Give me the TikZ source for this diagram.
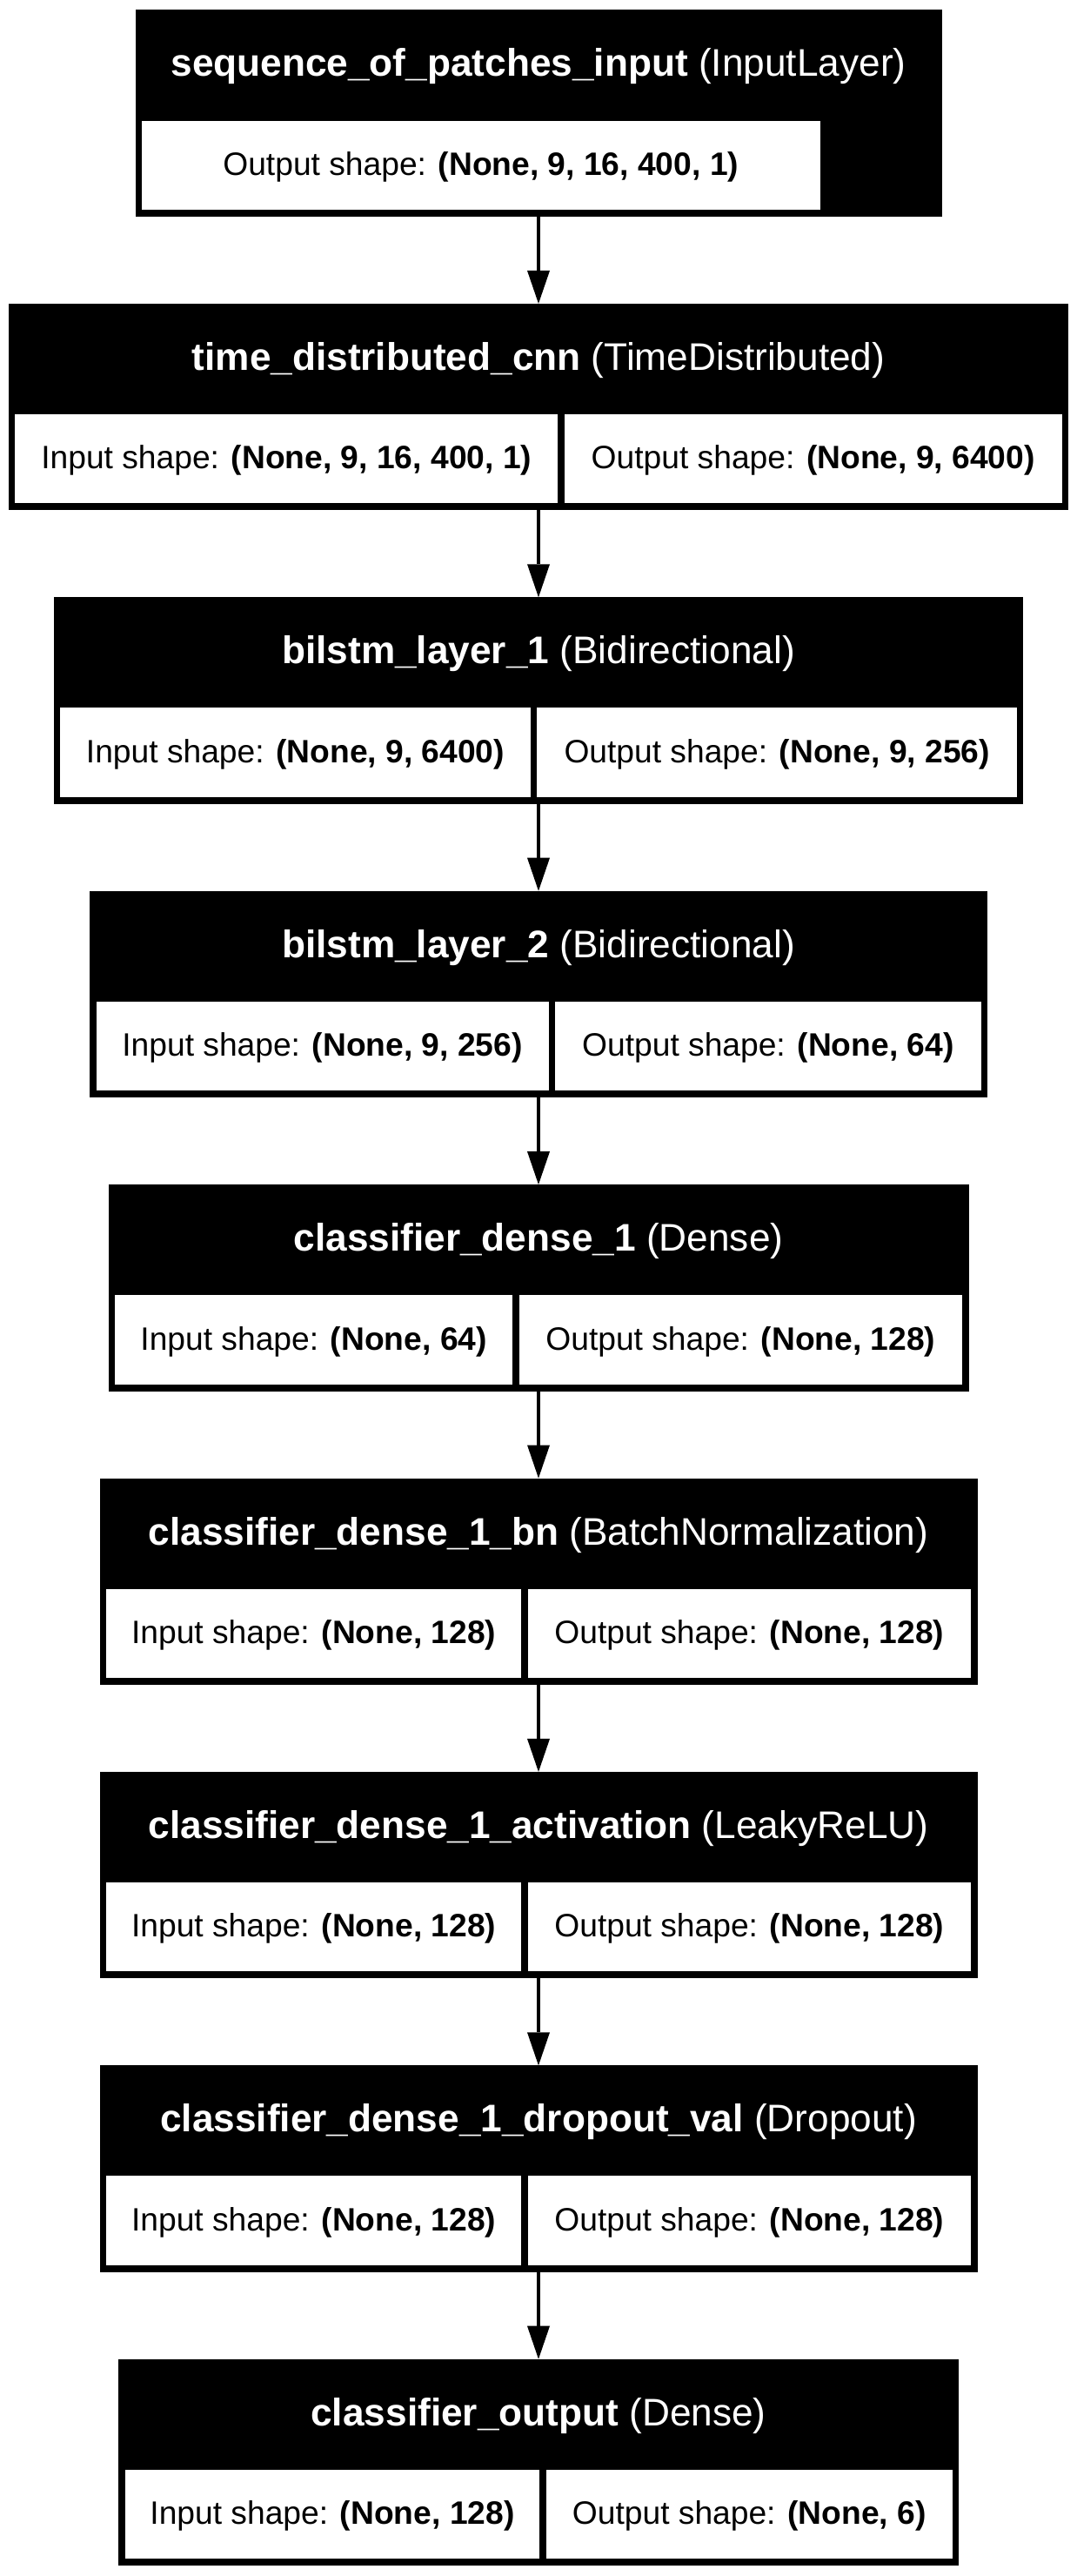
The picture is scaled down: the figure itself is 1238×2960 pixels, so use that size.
\documentclass[tikz,border=0pt]{standalone}
\usepackage{fontspec}
\setmainfont{Liberation Sans}
\usetikzlibrary{arrows.meta}
\newcommand{\ktitlefont}{\fontsize{44.2}{52}\selectfont}
\newcommand{\kcellfont}{\fontsize{37.2}{44}\selectfont}
\tikzset{
  outerbox/.style={fill=black, draw=none, inner sep=0pt, outer sep=0pt, minimum height=237.5pt},
  cellbox/.style={fill=white, draw=none, inner sep=0pt, outer sep=0pt, minimum height=102.5pt,
    text height=30pt, text depth=6.5pt, font=\kcellfont, text=black},
  titlelabel/.style={anchor=base, inner sep=0pt, text=white, font=\ktitlefont},
  arr/.style={line width=4.5pt, -{Triangle[length=38pt,width=26pt,line width=0pt]}}
}
\begin{document}
\begin{tikzpicture}[x=1pt,y=-1pt]
\fill[white] (0,0) rectangle (1238,2960);
\useasboundingbox (0,0) rectangle (1238,2960);

% box 0
\node[outerbox, minimum width=927pt] (b0) at (619,130.25) {};
\node[titlelabel] (t0) at (619,88) {\textbf{sequence\_of\_patches\_input} (InputLayer)};
\node[cellbox, minimum width=780.5pt] (o0) at (552.75,189.75) {Output shape: \textbf{(None, 9, 16, 400, 1)}};

% box 1
\node[outerbox, minimum width=1218.5pt] (b1) at (619,467.65) {};
\node[titlelabel] (t1) at (619,425.4) {\textbf{time\_distributed\_cnn} (TimeDistributed)};
\node[cellbox, minimum width=624pt] (i1) at (329.25,527.15) {Input shape: \textbf{(None, 9, 16, 400, 1)}};
\node[cellbox, minimum width=572pt] (o1) at (934.75,527.15) {Output shape: \textbf{(None, 9, 6400)}};

% box 2
\node[outerbox, minimum width=1114.8pt] (b2) at (619,805.05) {};
\node[titlelabel] (t2) at (619,762.8) {\textbf{bilstm\_layer\_1} (Bidirectional)};
\node[cellbox, minimum width=540.85pt] (i2) at (339.525,864.55) {Input shape: \textbf{(None, 9, 6400)}};
\node[cellbox, minimum width=551.45pt] (o2) at (893.175,864.55) {Output shape: \textbf{(None, 9, 256)}};

% box 3
\node[outerbox, minimum width=1032pt] (b3) at (619,1142.45) {};
\node[titlelabel] (t3) at (619,1100.2) {\textbf{bilstm\_layer\_2} (Bidirectional)};
\node[cellbox, minimum width=520.15pt] (i3) at (370.575,1201.95) {Input shape: \textbf{(None, 9, 256)}};
\node[cellbox, minimum width=489.35pt] (o3) at (882.825,1201.95) {Output shape: \textbf{(None, 64)}};

% box 4
\node[outerbox, minimum width=989pt] (b4) at (619,1479.85) {};
\node[titlelabel] (t4) at (619,1437.6) {\textbf{classifier\_dense\_1} (Dense)};
\node[cellbox, minimum width=457.25pt] (i4) at (360.625,1539.35) {Input shape: \textbf{(None, 64)}};
\node[cellbox, minimum width=509.25pt] (o4) at (851.375,1539.35) {Output shape: \textbf{(None, 128)}};

% box 5
\node[outerbox, minimum width=1009pt] (b5) at (619,1817.25) {};
\node[titlelabel] (t5) at (619,1775) {\textbf{classifier\_dense\_1\_bn} (BatchNormalization)};
\node[cellbox, minimum width=477.25pt] (i5) at (360.625,1876.75) {Input shape: \textbf{(None, 128)}};
\node[cellbox, minimum width=509.25pt] (o5) at (861.375,1876.75) {Output shape: \textbf{(None, 128)}};

% box 6
\node[outerbox, minimum width=1009pt] (b6) at (619,2154.65) {};
\node[titlelabel] (t6) at (619,2112.4) {\textbf{classifier\_dense\_1\_activation} (LeakyReLU)};
\node[cellbox, minimum width=477.25pt] (i6) at (360.625,2214.15) {Input shape: \textbf{(None, 128)}};
\node[cellbox, minimum width=509.25pt] (o6) at (861.375,2214.15) {Output shape: \textbf{(None, 128)}};

% box 7
\node[outerbox, minimum width=1009pt] (b7) at (619,2492.05) {};
\node[titlelabel] (t7) at (619,2449.8) {\textbf{classifier\_dense\_1\_dropout\_val} (Dropout)};
\node[cellbox, minimum width=477.25pt] (i7) at (360.625,2551.55) {Input shape: \textbf{(None, 128)}};
\node[cellbox, minimum width=509.25pt] (o7) at (861.375,2551.55) {Output shape: \textbf{(None, 128)}};

% box 8
\node[outerbox, minimum width=966pt] (b8) at (619,2829.45) {};
\node[titlelabel] (t8) at (619,2787.2) {\textbf{classifier\_output} (Dense)};
\node[cellbox, minimum width=476.95pt] (i8) at (381.975,2888.95) {Input shape: \textbf{(None, 128)}};
\node[cellbox, minimum width=466.55pt] (o8) at (861.225,2888.95) {Output shape: \textbf{(None, 6)}};

% connectors
\draw[arr] (b0.south) -- (b1.north);
\draw[arr] (b1.south) -- (b2.north);
\draw[arr] (b2.south) -- (b3.north);
\draw[arr] (b3.south) -- (b4.north);
\draw[arr] (b4.south) -- (b5.north);
\draw[arr] (b5.south) -- (b6.north);
\draw[arr] (b6.south) -- (b7.north);
\draw[arr] (b7.south) -- (b8.north);
\end{tikzpicture}
\end{document}
